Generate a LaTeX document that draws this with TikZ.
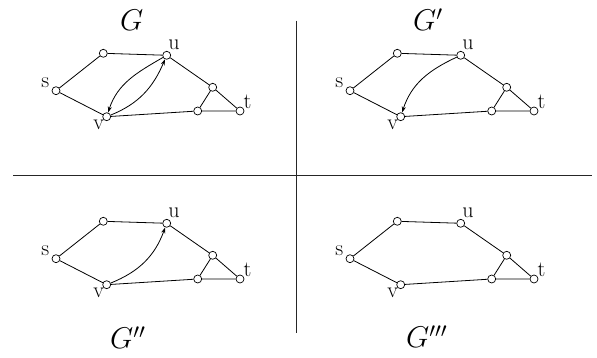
\RequirePackage{fix-cm}
\documentclass[tikz,border=0pt]{standalone}
\usepackage{tikz}
\usetikzlibrary{arrows.meta,positioning}

\begin{document}
\begin{tikzpicture}[
  x=1pt,y=1pt,
  vtx/.style={circle,draw,fill=white,inner sep=0pt,minimum size=8pt,line width=0.7pt},
  lab/.style={font=\fontsize{22}{24}\selectfont,inner sep=0.5pt},
  ttl/.style={font=\fontsize{30}{34}\selectfont,anchor=base west,inner sep=0pt},
  edge/.style={line width=0.8pt},
  arc/.style={-{Stealth[length=6pt,width=4pt]},line width=0.8pt},
  divider/.style={line width=0.9pt,color=black!85}
]
\useasboundingbox (0,0) rectangle (597,358);

% the same graph four times
\foreach \g/\dx/\dy in {A/0/0,B/294/0,C/0/-168,D/294/-168}{
  \begin{scope}[shift={(\dx,\dy)}]
    \node[vtx,label={[lab,label distance=2pt]160:s}] (\g s) at (56,267.3) {};
    \node[vtx,label={[lab,label distance=1pt]80:u}] (\g u) at (166.7,302.7) {};
    \node[vtx] (\g w1) at (103.3,304.7) {};
    \node[vtx] (\g w2) at (212.7,270.7) {};
    \node[vtx] (\g w3) at (197.7,247) {};
    \node[vtx,label={[lab,label distance=-1pt]25:t}] (\g t) at (240,247) {};
    \node[vtx,label={[lab,label distance=-1pt]235:v}] (\g v) at (106.7,241.3) {};
    \draw[edge] (\g s) -- (\g w1) -- (\g u) -- (\g w2) -- (\g t) -- (\g w3) -- (\g w2);
    \draw[edge] (\g s) -- (\g v) -- (\g w3);
  \end{scope}
}

% arcs between u and v
\draw[arc] (Au) to[out=210,in=72] (Av);
\draw[arc] (Av) to[out=22,in=247] (Au);
\draw[arc] (Bu) to[out=205,in=72] (Bv);
\draw[arc] (Cv) to[out=22,in=250] (Cu);

% titles
\node[ttl] (tA) at (120,327) {$G$};
\node[ttl] (tB) at (413,327) {$G'$};
\node[ttl] (tC) at (110,9) {$G''$};
\node[ttl] (tD) at (406,10) {$G'''$};

% dividers
\coordinate (hl) at (13,182.5);
\coordinate (hr) at (592,182.5);
\coordinate (vt) at (296.7,337.3);
\coordinate (vb) at (296.7,25);
\draw[divider] (hl) -- (hr);
\draw[divider] (vt) -- (vb);
\end{tikzpicture}
\end{document}
